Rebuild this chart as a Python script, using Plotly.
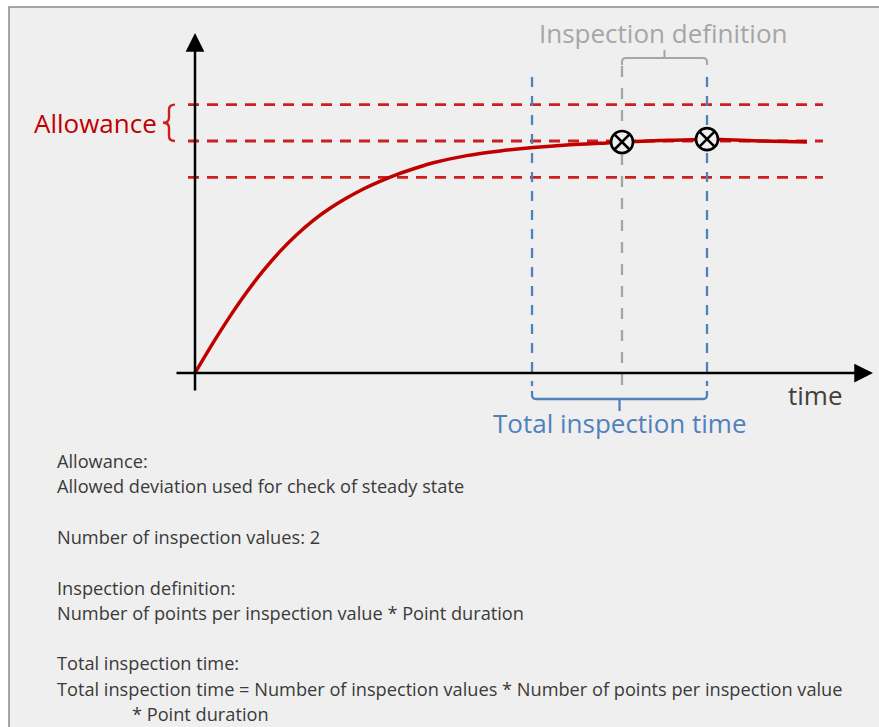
import plotly.graph_objects as go

# ---------------- data ----------------
# time axis in arbitrary units, response normalised to steady state = 1
curve_t = [0.0, 0.211, 0.402, 0.594, 0.785, 0.977, 1.169, 1.360, 1.552, 1.743,
           1.935, 2.126, 2.318, 2.586, 2.739, 3.123, 3.506, 3.889, 4.272, 4.655,
           4.908, 5.345, 5.790, 6.034, 6.494, 7.034]
curve_v = [0.0, 0.132, 0.244, 0.348, 0.441, 0.524, 0.596, 0.658, 0.710, 0.754,
           0.793, 0.826, 0.855, 0.889, 0.906, 0.937, 0.957, 0.972, 0.983, 0.990,
           0.996, 1.002, 1.007, 1.006, 1.000, 0.996]
steady_state = 1.0
allowance = 0.157
inspection_start = 3.874
inspection_times = [4.908, 5.885]        # one inspection value per inspection definition
inspection_values = [0.996, 1.008]

label_allowance = "Allowance"
label_def = "Inspection definition"
label_total = "Total inspection time"
label_time = "time"
notes = [
    ("Allowance:", 0),
    ("Allowed deviation used for check of steady state", 0),
    ("", 0),
    ("Number of inspection values: 2", 0),
    ("", 0),
    ("Inspection definition:", 0),
    ("Number of points per inspection value * Point duration", 0),
    ("", 0),
    ("Total inspection time:", 0),
    ("Total inspection time = Number of inspection values * Number of points per inspection value", 0),
    ("* Point duration", 1),
]

# ---------------- styling / geometry ----------------
W, H = 879, 727
X0PX, Y0PX = 195, 373        # pixel of origin
PX_T, PX_V = 87.0, 232.0     # pixels per unit
xr = [-X0PX / PX_T, (W - X0PX) / PX_T]
yr = [-(H - Y0PX) / PX_V, Y0PX / PX_V]

def tx(px):   # pixel x -> data t
    return (px - X0PX) / PX_T

def vy(py):   # pixel y -> data v
    return (Y0PX - py) / PX_V

RED = "#c00000"
RED_D = "#cc2020"
BLUE = "#4f81bd"
GRAY = "#a6a6a6"
FONT = "Open Sans"

fig = go.Figure()

# curve
fig.add_trace(go.Scatter(x=curve_t, y=curve_v, mode="lines",
                         line=dict(color=RED, width=3.5, shape="spline", smoothing=0.8),
                         hoverinfo="skip", showlegend=False))
# inspection markers
fig.add_trace(go.Scatter(x=inspection_times, y=inspection_values, mode="markers",
                         marker=dict(symbol="circle-x", size=22, color="#efefef",
                                     line=dict(color="black", width=2.6)),
                         hoverinfo="skip", showlegend=False))

shapes = []
# panel background and border
shapes.append(dict(type="rect", xref="paper", yref="paper", x0=9 / W, x1=1.02,
                   y0=-0.02, y1=1 - 7 / H, fillcolor="#efefef",
                   line=dict(color="#8a8a8a", width=1.5), layer="below"))

# allowance band lines
for lvl in [steady_state + allowance, steady_state, steady_state - allowance]:
    shapes.append(dict(type="line", x0=tx(188), x1=tx(823), y0=lvl, y1=lvl,
                       line=dict(color=RED_D, width=2.8, dash="11px,8px"), layer="below"))

# inspection vertical lines
t_start, t_mid, t_end = inspection_start, inspection_times[0], inspection_times[1]
for t, col, top, dsh in [(t_start, BLUE, vy(77), "10px,9px"),
                         (t_end, BLUE, vy(77), "10px,9px"),
                         (t_mid, GRAY, vy(66), "11px,11px")]:
    shapes.append(dict(type="line", x0=t, x1=t, y0=top, y1=vy(386),
                       line=dict(color=col, width=2.3, dash=dsh), layer="below"))

# top bracket (inspection definition)
yb, ye, yc = vy(58), vy(65), vy(50)
r = 4 / PX_T
rv = 4 / PX_V
tc = (t_mid + t_end) / 2
p = (f"M{t_mid},{ye} L{t_mid},{yb - rv} Q{t_mid},{yb} {t_mid + r},{yb} "
     f"L{t_end - r},{yb} Q{t_end},{yb} {t_end},{yb - rv} L{t_end},{ye} "
     f"M{tc},{yb} L{tc},{yc}")
shapes.append(dict(type="path", path=p, line=dict(color=GRAY, width=2)))

# bottom bracket (total inspection time)
yb, ye, yc = vy(399), vy(391), vy(411)
tc = (t_start + t_end) / 2
p = (f"M{t_start},{ye} L{t_start},{yb + rv} Q{t_start},{yb} {t_start + r},{yb} "
     f"L{t_end - r},{yb} Q{t_end},{yb} {t_end},{yb + rv} L{t_end},{ye} "
     f"M{tc},{yb} L{tc},{yc}")
shapes.append(dict(type="path", path=p, line=dict(color=BLUE, width=2.3)))

# allowance brace
ytop, ybot = steady_state + allowance, steady_state
ymid = (ytop + ybot) / 2
xR, xM, xL = tx(175), tx(169), tx(163)
d = 5 / PX_V
p = (f"M{xR},{ytop} Q{xM},{ytop} {xM},{ytop - d} L{xM},{ymid + d} "
     f"Q{xM},{ymid} {xL},{ymid} Q{xM},{ymid} {xM},{ymid - d} "
     f"L{xM},{ybot + d} Q{xM},{ybot} {xR},{ybot}")
shapes.append(dict(type="path", path=p, line=dict(color=RED_D, width=2.4)))

annotations = []
# axes with arrowheads
annotations.append(dict(x=tx(873), y=0, ax=tx(175), ay=0, xref="x", yref="y",
                        axref="x", ayref="y", text="", showarrow=True,
                        arrowhead=2, arrowsize=1.5, arrowwidth=2.5, arrowcolor="black"))
annotations.append(dict(x=0, y=vy(33), ax=0, ay=vy(392), xref="x", yref="y",
                        axref="x", ayref="y", text="", showarrow=True,
                        arrowhead=2, arrowsize=1.5, arrowwidth=2.5, arrowcolor="black"))

# labels
annotations.append(dict(x=tx(159), y=ymid, xref="x", yref="y", text=label_allowance,
                        showarrow=False, xanchor="right", yanchor="middle",
                        font=dict(family=FONT, size=26, color=RED)))
annotations.append(dict(x=(t_mid + t_end) / 2 - 2 / PX_T, y=vy(33), xref="x", yref="y",
                        text=label_def, showarrow=False, xanchor="center", yanchor="middle",
                        font=dict(family=FONT, size=26, color=GRAY)))
annotations.append(dict(x=(t_start + t_end) / 2, y=vy(423), xref="x", yref="y", text=label_total,
                        showarrow=False, xanchor="center", yanchor="middle",
                        font=dict(family=FONT, size=26, color=BLUE)))
annotations.append(dict(x=tx(786), y=vy(395), xref="x", yref="y", text=label_time,
                        showarrow=False, xanchor="left", yanchor="middle",
                        font=dict(family=FONT, size=26, color="#404040")))

for i, (txt, indent) in enumerate(notes):
    if not txt:
        continue
    ypx = 461 + i * 25.3
    xpx = 130 if indent else 55
    annotations.append(dict(x=xpx / W, y=1 - ypx / H, xref="paper", yref="paper",
                            text=txt, showarrow=False, xanchor="left", yanchor="middle",
                            font=dict(family=FONT, size=18.2, color="#3a3a3a")))

fig.update_layout(width=W, height=H, margin=dict(l=0, r=0, t=0, b=0),
                  paper_bgcolor="white", plot_bgcolor="white",
                  xaxis=dict(range=xr, visible=False, fixedrange=True),
                  yaxis=dict(range=yr, visible=False, fixedrange=True),
                  shapes=shapes, annotations=annotations, showlegend=False)

fig.write_html("out.html", config={"displayModeBar": False},
               post_script="document.body.style.margin='0';document.body.style.overflow='hidden';")
